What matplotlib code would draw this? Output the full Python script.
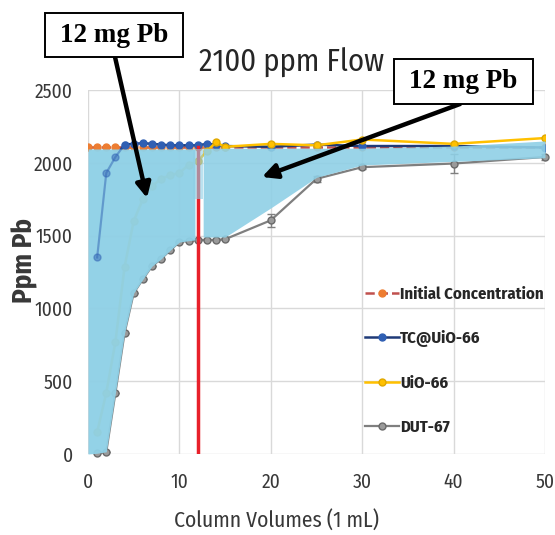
import numpy as np
import matplotlib.pyplot as plt
from matplotlib.patches import Rectangle, FancyArrowPatch

# ── Data ─────────────────────────────────────────────
cv_init = [0, 1, 2, 3, 4, 5, 6, 7, 8, 9, 10, 11, 12, 13, 14, 15, 20, 25, 30, 40, 50]
ppm_init = [2110] * len(cv_init)

cv = [1, 2, 3, 4, 5, 6, 7, 8, 9, 10, 11, 12, 13, 14, 15, 20, 25, 30, 40, 50]
ppm_tc = [1350, 1930, 2040, 2125, 2130, 2135, 2130, 2125, 2120, 2120,
          2120, 2120, 2130, 2125, 2115, 2110, 2125, 2115, 2115, 2105]
ppm_uio = [150, 420, 770, 1285, 1600, 1750, 1840, 1890, 1915, 1930,
           1985, 2010, 2080, 2140, 2110, 2130, 2120, 2160, 2130, 2170]
ppm_dut = [5, 15, 420, 830, 1105, 1200, 1290, 1340, 1400, 1455,
           1465, 1470, 1470, 1470, 1475, 1605, 1890, 1970, 1995, 2040]
err_dut = [0, 0, 0, 0, 0, 0, 0, 0, 0, 0,
           0, 0, 0, 0, 0, 45, 20, 15, 65, 20]

# shaded "12 mg Pb" areas (before / after the 12 CV mark)
shade1_x = [0, 1, 2, 3, 4, 5, 6, 7, 8, 9, 10, 11, 11.7]
shade1_lo = [0, 5, 15, 420, 830, 1105, 1200, 1290, 1340, 1400, 1455, 1465, 1470]
shade1_hi = [2095] * len(shade1_x)

shade2_x = [12.6, 15, 20, 25, 30, 40, 50]
shade2_lo = [1490, 1490, 1690, 1900, 1985, 2010, 2035]
shade2_hi = [2100, 2100, 2100, 2100, 2100, 2115, 2150]

cv_mark = 12

# ── Figure ─────────────────────────────────────────────
W, H = 555, 535
fig = plt.figure(figsize=(W / 100, H / 100), dpi=100, facecolor='white')
ax = fig.add_axes([88 / W, 1 - 454 / H, (545 - 88) / W, (454 - 90) / H])

narrow = ['Fira Sans Condensed', 'Roboto Condensed', 'PT Sans Narrow', 'Lato']
txt_col = '#383838'
shade = '#8fd0e6'

ax.plot(cv_init, ppm_init, ls='--', color='#c0504d', lw=1.8, marker='o',
        ms=5, mfc='#ed7d31', mec='#ed7d31', label='Initial Concentration', zorder=3)
ax.plot(cv, ppm_tc, color='#1f3a78', lw=1.8, marker='o', ms=5,
        mfc='#2f5fb3', mec='#2f5fb3', label='TC@UiO-66', zorder=3)
ax.plot(cv, ppm_uio, color='#ffc000', lw=1.8, marker='o', ms=5,
        mfc='#ffc000', mec='#e0a800', label='UiO-66', zorder=3)
ax.errorbar(cv, ppm_dut, yerr=err_dut, fmt='none', ecolor='#7f7f7f',
            capsize=3, elinewidth=1, zorder=3)
ax.plot(cv, ppm_dut, color='#7f7f7f', lw=1.6, marker='o', ms=5,
        mfc='#9a9a9a', mec='#6a6a6a', label='DUT-67', zorder=3, clip_on=False)

ax.axvline(cv_mark, ymin=0, ymax=2110 / 2500, color='#e8202a', lw=2.5, zorder=4)

ax.fill_between(shade1_x, shade1_lo, shade1_hi, color=shade, alpha=0.96,
                lw=0, zorder=5)
ax.fill_between([11.5, 12.6], [1750, 1750], [2095, 2095], color=shade,
                alpha=0.6, lw=0, zorder=5)
ax.fill_between(shade2_x, shade2_lo, shade2_hi, color=shade, alpha=0.9,
                lw=0, zorder=5)
# breakthrough of TC@UiO-66 still shows faintly through the shading
ax.plot(cv[:4], ppm_tc[:4], color='#2f5fb3', lw=1.5, marker='o', ms=5,
        alpha=0.45, zorder=6)

ax.set_xlim(0, 50)
ax.set_ylim(0, 2500)
ax.set_xticks(range(0, 51, 10))
ax.set_yticks(range(0, 2501, 500))
ax.grid(True, color='#d9d9d9', lw=1)
ax.set_axisbelow(True)
for s in ax.spines.values():
    s.set_visible(False)
ax.tick_params(length=0, colors=txt_col, labelsize=14)
ax.tick_params(axis='y', pad=11)
ax.tick_params(axis='x', pad=13)
for lab in ax.get_xticklabels() + ax.get_yticklabels():
    lab.set_family(narrow)

leg = ax.legend(loc='upper left', bbox_to_anchor=(0.574, 0.502), frameon=False,
                handlelength=2.0, handletextpad=0.1, labelspacing=1.68,
                prop={'family': narrow, 'weight': 'bold', 'size': 12})
for t in leg.get_texts():
    t.set_color('#262626')

fig.text(292 / W, 1 - 72 / H, '2100 ppm Flow', ha='center', va='baseline',
         fontsize=22, family=narrow, color='#262626')
fig.text(277 / W, 1 - 520 / H, 'Column Volumes (1 mL)', ha='center', va='center',
         fontsize=15.5, family=narrow, color=txt_col)
fig.text(25 / W, 1 - 260 / H, 'Ppm Pb', ha='center', va='center', rotation=90,
         fontsize=19.5, fontweight='bold', family=narrow, color=txt_col)

# callout boxes with arrows
boxes = [((45, 13, 183, 57), (115, 57), (147, 198)),
         ((394, 59, 533, 104), (460, 104), (262, 177))]
for (x0, y0, x1, y1), tail, head in boxes:
    fig.add_artist(FancyArrowPatch((tail[0] / W, 1 - tail[1] / H),
                                   (head[0] / W, 1 - head[1] / H),
                                   transform=fig.transFigure, arrowstyle='-|>',
                                   mutation_scale=22, lw=3.2, color='black',
                                   shrinkA=0, shrinkB=0, zorder=10))
    fig.add_artist(Rectangle((x0 / W, 1 - y1 / H), (x1 - x0) / W, (y1 - y0) / H,
                             transform=fig.transFigure, fc='white', ec='black',
                             lw=1.4, zorder=11))
    fig.text((x0 + x1) / 2 / W, 1 - (y0 + y1) / 2 / H, '12 mg Pb', ha='center',
             va='center', fontsize=19.5, fontweight='bold',
             family=['Liberation Serif', 'DejaVu Serif'], zorder=12)

fig.savefig('out.png', dpi=100)
